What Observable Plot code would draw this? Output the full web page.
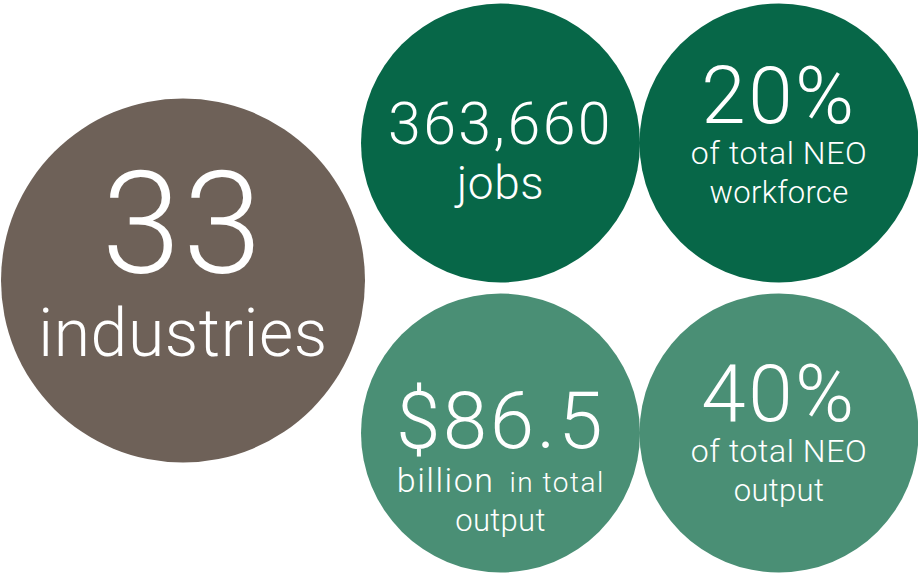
<!DOCTYPE html>
<html>
<head>
<meta charset="utf-8">
<script src="https://cdn.jsdelivr.net/npm/d3@7"></script>
<script src="https://cdn.jsdelivr.net/npm/@observablehq/plot@0.6"></script>
<style>
  html, body { margin: 0; padding: 0; background: #ffffff; }
  #chart svg { display: block; }
</style>
</head>
<body>
<div id="chart"></div>
<script>
// ---- data ----
const metrics = ["industries", "jobs", "workforce share", "output", "output share"];
const headlines = ["33", "363,660", "20%", "$86.5", "40%"];
const sublines1 = ["industries", "jobs", "of total NEO", "", "of total NEO"];
const sublines2 = ["", "", "workforce", "output", "output"];
const splitWords = ["billion", "in total"]; // mixed-size line under $86.5
const colors = ["#6e6158", "#076748", "#076748", "#4a8f75", "#4a8f75"];

// ---- layout (separate from data) ----
const layout = [
  {cx: 182.5, cy: 280, r: 182, hy: 272, hs: 142, s1y: 355, s1s: 66, s2y: 0, s2s: 0},
  {cx: 500, cy: 142.5, r: 139.5, hy: 143, hs: 59, s1y: 198, s1s: 46, s2y: 0, s2s: 0},
  {cx: 778.5, cy: 142.5, r: 139.5, hy: 122, hs: 80, s1y: 163, s1s: 32, s2y: 202, s2s: 31},
  {cx: 500, cy: 432.5, r: 139.5, hy: 447, hs: 80, s1y: 490, s1s: 31, s2y: 530, s2s: 31},
  {cx: 778.5, cy: 432.5, r: 139.5, hy: 420, hs: 80, s1y: 461, s1s: 32, s2y: 500, s2s: 31}
];

const rows = metrics.map((m, i) => ({
  metric: m,
  headline: headlines[i],
  sub1: sublines1[i],
  sub2: sublines2[i],
  color: colors[i],
  ...layout[i]
}));

const splitA = [{text: splitWords[0], x: 494, y: 491}];
const splitB = [{text: splitWords[1], x: 509, y: 491}];

const FONT = "Roboto";
const common = {fill: "white", fontWeight: 300, fontFamily: FONT, lineAnchor: "bottom"};

const chart = Plot.plot({
  width: 918,
  height: 574,
  margin: 0,
  x: {type: "linear", domain: [0, 918], range: [0, 918], axis: null},
  y: {type: "linear", domain: [0, 574], range: [0, 574], axis: null},
  r: {type: "linear", domain: [0, 200], range: [0, 200]},
  style: {background: "#ffffff", fontFamily: FONT},
  marks: [
    Plot.dot(rows, {x: "cx", y: "cy", r: "r", fill: "color", stroke: null}),
    Plot.text(rows, {...common, x: "cx", y: "hy", text: "headline", fontSize: d => d.hs, textAnchor: "middle"}),
    Plot.text(rows.filter(d => d.sub1), {...common, x: "cx", y: "s1y", text: "sub1", fontSize: d => d.s1s, textAnchor: "middle"}),
    Plot.text(rows.filter(d => d.sub2), {...common, x: "cx", y: "s2y", text: "sub2", fontSize: d => d.s2s, textAnchor: "middle"}),
    Plot.text(splitA, {...common, x: "x", y: "y", text: "text", fontSize: 34, textAnchor: "end"}),
    Plot.text(splitB, {...common, x: "x", y: "y", text: "text", fontSize: 28, textAnchor: "start"})
  ]
});

// letter spacing per text layer (headline, sub1, sub2, splitA, splitB)
const spacing = ["2.5px", "0.6px", "0.3px", "1.5px", "1.5px"];
d3.select(chart).selectAll("g[aria-label='text']").each(function(_, i) {
  d3.select(this).attr("letter-spacing", spacing[i] || "0px");
});

document.getElementById("chart").appendChild(chart);
</script>
</body>
</html>
